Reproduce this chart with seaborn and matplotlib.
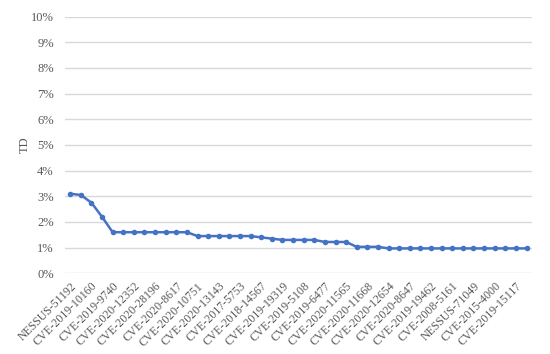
import matplotlib
matplotlib.use("Agg")
import matplotlib.pyplot as plt
import seaborn as sns
import pandas as pd
from matplotlib.ticker import FuncFormatter, MultipleLocator

labels = ["NESSUS-51192", "CVE-2019-10160", "CVE-2019-9740", "CVE-2020-12352",
          "CVE-2020-28196", "CVE-2020-8617", "CVE-2020-10751", "CVE-2020-13143",
          "CVE-2017-5753", "CVE-2018-14567", "CVE-2019-19319", "CVE-2019-5108",
          "CVE-2019-6477", "CVE-2020-11565", "CVE-2020-11668", "CVE-2020-12654",
          "CVE-2020-8647", "CVE-2019-19462", "CVE-2008-5161", "NESSUS-71049",
          "CVE-2015-4000", "CVE-2019-15117"]

td = [3.10, 3.05, 2.75, 2.20,
      1.60, 1.60, 1.60, 1.60, 1.60, 1.60, 1.60, 1.60,
      1.45, 1.45, 1.45, 1.45, 1.45, 1.45,
      1.40, 1.35,
      1.30, 1.30, 1.30, 1.30,
      1.22, 1.22, 1.22,
      1.03, 1.03, 1.03,
      0.97, 0.97, 0.97, 0.97, 0.97, 0.97, 0.97, 0.97, 0.97, 0.97, 0.97, 0.97, 0.97, 0.97]

df = pd.DataFrame({"pos": range(len(td)), "TD": td})

sns.set_style("white")
plt.rcParams["font.family"] = ["Liberation Serif", "DejaVu Serif"]
gray = "#595959"

fig = plt.figure(figsize=(5.5, 3.54), dpi=100)
ax = fig.add_axes([0.118, 0.228, 0.849, 0.725])
sns.lineplot(data=df, x="pos", y="TD", ax=ax, color="#4472C4", linewidth=1.8,
             marker="o", markersize=4, markeredgewidth=0, sort=False)

ax.set_xlim(-0.5, len(td) - 0.5)
ax.set_ylim(0, 10)
ax.yaxis.set_major_locator(MultipleLocator(1))
ax.yaxis.set_major_formatter(FuncFormatter(lambda v, p: f"{v:.0f}%"))
ax.grid(axis="y", color="#d9d9d9", linewidth=1)
ax.set_axisbelow(True)
for s in ax.spines.values():
    s.set_visible(False)

ax.set_xticks(range(0, len(td), 2))
ax.set_xticklabels(labels, rotation=45, ha="right", rotation_mode="anchor",
                   fontsize=8.5, color=gray)
ax.tick_params(axis="both", length=0, pad=5)
ax.tick_params(axis="y", labelsize=9, labelcolor=gray, pad=8)
ax.set_xlabel("")
ax.set_ylabel("TD", fontsize=9, color=gray, labelpad=0)

fig.savefig("out.png", dpi=100)
